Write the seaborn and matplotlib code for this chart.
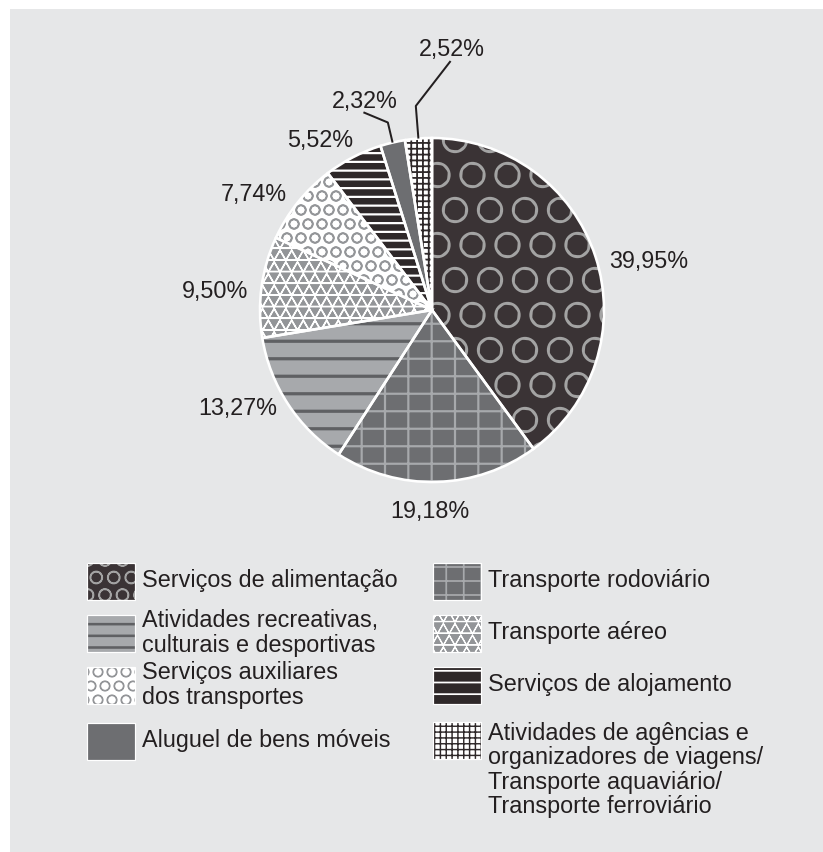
import matplotlib
matplotlib.use('Agg')
import matplotlib.pyplot as plt
import matplotlib.hatch as mhatch
from matplotlib.path import Path
from matplotlib.patches import Rectangle
import seaborn as sns
import numpy as np

# ------------------------------------------------------------------
# data
# ------------------------------------------------------------------
categories = [
    'Serviços de alimentação',
    'Transporte rodoviário',
    'Atividades recreativas,\nculturais e desportivas',
    'Transporte aéreo',
    'Serviços auxiliares\ndos transportes',
    'Serviços de alojamento',
    'Aluguel de bens móveis',
    'Atividades de agências e\norganizadores de viagens/\nTransporte aquaviário/\nTransporte ferroviário',
]
shares = [39.95, 19.18, 13.27, 9.50, 7.74, 5.52, 2.32, 2.52]


# ------------------------------------------------------------------
# extra hatch: outlined triangles, selected with '^'
# ------------------------------------------------------------------
class Triangles(mhatch.Shapes):
    size = 0.577
    filled = False

    def __init__(self, hatch, density):
        self.num_rows = hatch.count('^') * density
        path = Path.unit_regular_polygon(3)
        self.shape_vertices = path.vertices
        self.shape_codes = path.codes
        super().__init__(hatch, density)


mhatch._hatch_types.append(Triangles)
_orig_validate = mhatch._validate_hatch_pattern
mhatch._validate_hatch_pattern = lambda h: _orig_validate(
    h.replace('^', '') if isinstance(h, str) else h)

# ------------------------------------------------------------------
# styles
# ------------------------------------------------------------------
fills = ['#3a3335', '#6d6e71', '#a7a9ac', '#939598',
         '#ffffff', '#2e2829', '#6d6e71', '#ffffff']
hatch_colors = ['#a3a3a3', '#a7a9ac', '#5f6063', '#ffffff',
                '#939598', '#ffffff', '#6d6e71', '#2e2829']
pie_hatches = ['OO', '|||----', '----', '^^^^^^',
               'OOOOO', '--------', '', '++++++++++++']
legend_hatches = ['OOOO', '||||-----', '------', '^^^^^^',
                  'OOOOO', '------', '', '++++++++++++']
hatch_lw_px = [1.8, 2.2, 3.2, 1.4, 1.6, 2.2, 0.0, 1.8]

# label placement: (radius factor, angle nudge in degrees)
label_place = [(1.294, -5.4), (1.174, -2.3), (1.269, -6.3), (1.263, 2.9),
               (1.238, 5.8), (1.179, 6.0), (1.275, 4.5), (1.517, -9.0)]
leader_elbow = {6: 1.12, 7: 1.19}

TXT = '#231f20'
BG = '#e6e7e8'
W, H, DPI = 823, 852, 420
cx, cy, R = 432, 310, 172
FS = 23.5 * 72 / DPI


def pt(px):
    return px * 72 / DPI


def to_data(px, py):
    return (px - cx) / R, (cy - py) / R


def set_hatch_lw(p, lw_px):
    if hasattr(p, 'set_hatch_linewidth'):
        p.set_hatch_linewidth(pt(lw_px))
    else:
        p._hatch_linewidth = pt(lw_px)


sns.set_theme(style='white')
plt.rcParams['font.family'] = ['Liberation Sans', 'DejaVu Sans']

fig = plt.figure(figsize=(W / DPI, H / DPI), dpi=DPI, facecolor='white')
ax = fig.add_axes([0, 0, 1, 1])

# grey panel
x0, y0 = to_data(10, 852)
x1, y1 = to_data(823, 9)
ax.add_patch(Rectangle((x0, y0), x1 - x0, y1 - y0, facecolor=BG,
                       edgecolor='none', zorder=-10))

# hatched wedges
wedges, _ = ax.pie(shares, startangle=90, counterclock=False, colors=fills,
                   wedgeprops=dict(linewidth=0))
for w, h, hc, lw in zip(wedges, pie_hatches, hatch_colors, hatch_lw_px):
    w.set_edgecolor(hc)
    w.set_linewidth(0)
    if h:
        w.set_hatch(h)
        set_hatch_lw(w, lw)

# white separators and outline
outline, _ = ax.pie(shares, startangle=90, counterclock=False,
                    wedgeprops=dict(fill=False, edgecolor='white',
                                    linewidth=pt(2.6)))

# percentage labels
for i, w in enumerate(wedges):
    mid = np.deg2rad((w.theta1 + w.theta2) / 2)
    dist, nudge = label_place[i]
    ang = mid + np.deg2rad(nudge)
    tx, ty = dist * np.cos(ang), dist * np.sin(ang)
    lab = f'{shares[i]:.2f}%'.replace('.', ',')
    ax.text(tx, ty, lab, ha='center', va='center', fontsize=FS, color=TXT)
    if i in leader_elbow:
        e = leader_elbow[i]
        xs = [np.cos(mid), e * np.cos(mid), tx - 0.01]
        ys = [np.sin(mid), e * np.sin(mid), ty - 0.065]
        ax.plot(xs, ys, color=TXT, linewidth=pt(2.0), clip_on=False,
                solid_capstyle='butt')

# legend, laid out in two columns
col_x = [87, 433]
row_y = [581, 633, 685, 741]
sw_w, sw_h = 48, 37
for i, name in enumerate(categories):
    col, row = i % 2, i // 2
    sx, sy = col_x[col], row_y[row] - sw_h / 2
    if i == 7:
        sy = 722
    rx, ry = to_data(sx, sy + sw_h)
    sw = Rectangle((rx, ry), sw_w / R, sw_h / R, facecolor=fills[i],
                   edgecolor=hatch_colors[i], linewidth=0,
                   hatch=legend_hatches[i] or None)
    if legend_hatches[i]:
        set_hatch_lw(sw, hatch_lw_px[i] * 0.8)
    ax.add_patch(sw)
    ax.add_patch(Rectangle((rx, ry), sw_w / R, sw_h / R, fill=False,
                           edgecolor='white', linewidth=pt(1.2)))
    tx, ty = to_data(sx + sw_w + 7, sy if i == 7 else row_y[row])
    ax.text(tx, ty, name, ha='left', va='top' if i == 7 else 'center',
            fontsize=FS, color=TXT, linespacing=1.07)

ax.set_xlim(-cx / R, (W - cx) / R)
ax.set_ylim(-(H - cy) / R, cy / R)
ax.set_aspect('auto')
ax.axis('off')

fig.savefig('out.png', dpi=DPI, facecolor='white')
